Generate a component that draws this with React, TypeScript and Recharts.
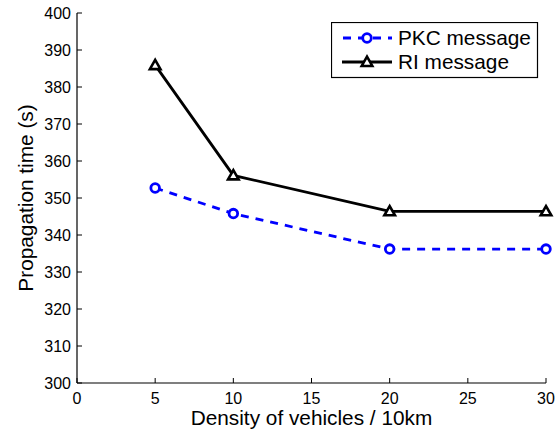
import React from 'react';
import { LineChart, Line, XAxis, YAxis } from 'recharts';

const densities = [5, 10, 20, 30];
const pkcValues = [352.7, 345.8, 336.2, 336.2];
const riValues = [385.9, 356.1, 346.4, 346.4];
const xTicks = [0, 5, 10, 15, 20, 25, 30];
const yTicks = [300, 310, 320, 330, 340, 350, 360, 370, 380, 390, 400];
const PKC_NAME = 'PKC message';
const RI_NAME = 'RI message';
const X_LABEL = 'Density of vehicles / 10km';
const Y_LABEL = 'Propagation time (s)';

const data = densities.map((d, i) => ({ x: d, pkc: pkcValues[i], ri: riValues[i] }));

const FONT = '"Liberation Sans", Arial, sans-serif';
const BLUE = '#0000ff';
const LABEL_SIZE = 20.8;

const CircleDot = (props: any) => {
  const { cx, cy } = props;
  if (cx == null || cy == null) return null;
  return <circle cx={cx} cy={cy} r={4.3} fill="#fff" stroke={BLUE} strokeWidth={2.8} />;
};

const TriDot = (props: any) => {
  const { cx, cy } = props;
  if (cx == null || cy == null) return null;
  const s = 5.3;
  const d = `M${cx},${cy - s} L${cx - s},${cy + s * 0.75} L${cx + s},${cy + s * 0.75} Z`;
  return <path d={d} fill="#fff" stroke="#000" strokeWidth={2.6} strokeLinejoin="miter" />;
};

const tickStyle = { fontSize: 16, fill: '#000', fontFamily: FONT };

export default function App() {
  return (
    <div style={{ position: 'absolute', left: 0, top: 0, width: 556, height: 434, background: '#fff' }}>
      <LineChart width={556} height={434} data={data} margin={{ top: 13, right: 10, left: 0, bottom: 0 }}>
        <XAxis
          dataKey="x"
          type="number"
          domain={[0, 30]}
          ticks={xTicks}
          height={51}
          stroke="#000"
          tickSize={-5}
          tickMargin={15}
          tick={tickStyle}
          axisLine={{ stroke: '#000', strokeWidth: 1.2 }}
          tickLine={{ stroke: '#000' }}
          label={{ value: X_LABEL, position: 'insideBottom', offset: 9, style: { fontSize: LABEL_SIZE, fill: '#000', fontFamily: FONT } }}
        />
        <XAxis
          xAxisId="top"
          dataKey="x"
          type="number"
          orientation="top"
          domain={[0, 30]}
          ticks={xTicks}
          height={0}
          tickSize={-5}
          tick={false}
          axisLine={{ stroke: '#000', strokeWidth: 1.2 }}
          tickLine={{ stroke: '#000' }}
        />
        <YAxis
          type="number"
          domain={[300, 400]}
          ticks={yTicks}
          width={77}
          tickSize={-5}
          tickMargin={11}
          tick={tickStyle}
          axisLine={{ stroke: '#000', strokeWidth: 1.2 }}
          tickLine={{ stroke: '#000' }}
          label={{ value: Y_LABEL, angle: -90, position: 'center', dx: -13, style: { fontSize: LABEL_SIZE, fill: '#000', fontFamily: FONT, textAnchor: 'middle' } }}
        />
        <YAxis
          yAxisId="right"
          type="number"
          orientation="right"
          domain={[300, 400]}
          ticks={yTicks}
          width={0}
          tickSize={-5}
          tick={false}
          axisLine={{ stroke: '#000', strokeWidth: 1.2 }}
          tickLine={{ stroke: '#000' }}
        />
        <Line
          dataKey="pkc"
          name={PKC_NAME}
          stroke={BLUE}
          strokeWidth={2.8}
          strokeDasharray="8 7"
          dot={<CircleDot />}
          isAnimationActive={false}
          type="linear"
        />
        <Line
          dataKey="ri"
          name={RI_NAME}
          stroke="#000"
          strokeWidth={2.8}
          dot={<TriDot />}
          isAnimationActive={false}
          type="linear"
        />
      </LineChart>
      <svg
        width={208}
        height={57}
        style={{ position: 'absolute', left: 331, top: 22 }}
      >
        <rect x={0.5} y={0.5} width={206} height={55} fill="#fff" stroke="#000" strokeWidth={1.2} />
        <line x1={11} y1={16} x2={61} y2={16} stroke={BLUE} strokeWidth={2.8} strokeDasharray="8 7" strokeDashoffset={-1} />
        <CircleDot cx={36} cy={16} />
        <text x={67} y={16} dy="0.36em" fontSize={LABEL_SIZE} fontFamily={FONT} fill="#000">{PKC_NAME}</text>
        <line x1={11} y1={40} x2={61} y2={40} stroke="#000" strokeWidth={2.8} />
        <TriDot cx={36} cy={40} />
        <text x={67} y={40} dy="0.36em" fontSize={LABEL_SIZE} fontFamily={FONT} fill="#000">{RI_NAME}</text>
      </svg>
    </div>
  );
}
